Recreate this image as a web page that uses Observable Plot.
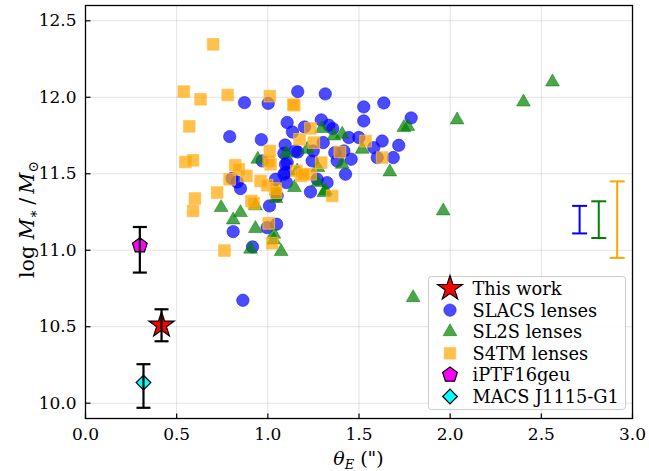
<!DOCTYPE html>
<html>
<head>
<meta charset="utf-8">
<script src="https://cdn.jsdelivr.net/npm/d3@7"></script>
<script src="https://cdn.jsdelivr.net/npm/@observablehq/plot@0.6"></script>
<style>
  body { margin: 0; background: #fff; }
  #chart { position: relative; width: 649px; height: 471px; }
</style>
</head>
<body>
<div id="chart"></div>
<script>
// ---------- data ----------
const slacsTheta = [0.872,1.002,1.164,1.315,1.526,1.636,1.526,1.786,0.791,0.964,1.106,1.135,1.201,1.293,1.335,1.356,1.444,1.499,1.627,1.718,1.581,1.600,1.688,1.304,1.095,1.088,1.164,1.249,0.969,1.106,1.097,1.088,1.102,1.097,0.804,0.832,0.850,1.042,1.051,1.009,1.271,1.325,1.234,1.426,1.380,1.457,1.367,1.417,0.810,0.996,1.048,0.916,0.863,1.243,1.152];
const slacsMass  = [11.965,11.960,12.037,12.022,11.937,11.963,11.845,11.865,11.743,11.723,11.835,11.773,11.806,11.852,11.817,11.795,11.737,11.737,11.714,11.686,11.671,11.606,11.606,11.704,11.688,11.634,11.642,11.649,11.584,11.573,11.508,11.497,11.442,11.562,11.469,11.446,11.403,11.464,11.355,11.290,11.464,11.442,11.381,11.497,11.584,11.595,11.638,11.649,11.122,11.148,11.170,11.022,10.673,11.584,11.649];

const sl2sTheta = [2.561,2.402,2.038,1.746,1.768,1.296,1.362,1.408,1.517,1.102,1.216,0.945,1.044,0.744,0.932,0.850,1.274,1.274,1.146,1.316,1.408,1.669,1.962,1.797,0.810,0.932,1.033,1.033,0.905,1.073,1.307,1.046,1.161];
const sl2sMass  = [12.100,11.969,11.852,11.802,11.808,11.795,11.747,11.758,11.660,11.634,11.660,11.595,11.338,11.279,11.290,11.246,11.540,11.442,11.410,11.388,11.562,11.512,11.257,10.690,11.198,11.142,11.105,11.067,11.007,10.991,11.377,11.388,11.518];

const s4tmTheta = [0.700,0.539,0.631,0.780,1.011,0.569,1.145,1.234,1.536,1.174,1.252,1.011,1.005,1.015,0.548,0.590,0.821,0.841,0.883,0.790,0.960,0.996,1.042,0.722,0.600,0.590,0.910,0.923,1.157,1.183,1.234,1.293,1.353,1.395,1.627,1.005,1.024,0.762,1.046,1.197,1.140];
const s4tmMass  = [12.346,12.037,11.987,12.015,12.008,11.810,11.948,11.797,11.714,11.725,11.704,11.649,11.584,11.562,11.577,11.588,11.556,11.529,11.486,11.464,11.453,11.425,11.403,11.377,11.338,11.257,11.322,11.307,11.518,11.486,11.497,11.573,11.355,11.642,11.606,11.176,11.046,10.998,11.377,11.497,11.952];

// individual lenses with error bars
const specialNames = ["This work", "iPTF16geu", "MACS J1115-G1"];
const specialTheta = [0.417, 0.298, 0.318];
const specialMass  = [10.51, 11.03, 10.135];
const specialLow   = [10.405, 10.854, 9.970];
const specialHigh  = [10.614, 11.152, 10.255];

// representative error bars of the samples
const repTheta = [2.71, 2.815, 2.916];
const repMass  = [11.2, 11.2, 11.2];
const repErr   = [0.09, 0.12, 0.25];
const repColor = ["blue", "green", "orange"];

const xTicks = [0, 0.5, 1.0, 1.5, 2.0, 2.5, 3.0];
const yTicks = [10.0, 10.5, 11.0, 11.5, 12.0, 12.5];

const legendLabels = ["This work", "SLACS lenses", "SL2S lenses", "S4TM lenses", "iPTF16geu", "MACS J1115-G1"];

// ---------- helpers ----------
const zip = (xs, ys) => xs.map((x, i) => ({x, y: ys[i]}));
const slacs = zip(slacsTheta, slacsMass);
const sl2s = zip(sl2sTheta, sl2sMass);
const s4tm = zip(s4tmTheta, s4tmMass);
const special = specialNames.map((n, i) => ({name: n, x: specialTheta[i], y: specialMass[i], lo: specialLow[i], hi: specialHigh[i]}));
const rep = repTheta.map((x, i) => ({x, y: repMass[i], lo: repMass[i] - repErr[i], hi: repMass[i] + repErr[i], c: repColor[i]}));

const pentagon = {draw(ctx, size) {
  const R = Math.sqrt(size / Math.PI);
  for (let i = 0; i < 5; i++) {
    const a = -Math.PI / 2 + i * 2 * Math.PI / 5;
    const px = R * Math.cos(a), py = R * Math.sin(a);
    if (i === 0) ctx.moveTo(px, py); else ctx.lineTo(px, py);
  }
  ctx.closePath();
}};
const capSym = {draw(ctx, size) { const w = Math.sqrt(size / Math.PI); ctx.moveTo(-w, 0); ctx.lineTo(w, 0); }};
const tickUp = {draw(ctx, size) { const l = Math.sqrt(size / Math.PI); ctx.moveTo(0, 0); ctx.lineTo(0, -l); }};
const tickRight = {draw(ctx, size) { const l = Math.sqrt(size / Math.PI); ctx.moveTo(0, 0); ctx.lineTo(l, 0); }};

const FONT = "DejaVu Serif";
const W = 649, H = 471, ML = 85, MR = 17, MT = 5, MB = 53;
const TICKFONT = "17px";

const chart = Plot.plot({
  width: W, height: H,
  marginLeft: ML, marginRight: MR, marginTop: MT, marginBottom: MB,
  style: {fontFamily: FONT, fontSize: TICKFONT, color: "#000", background: "#fff"},
  x: {domain: [0, 3]},
  y: {domain: [9.9, 12.6]},
  marks: [
    Plot.gridX(xTicks.slice(1, -1), {stroke: "#b0b0b0", strokeOpacity: 0.35, strokeWidth: 1}),
    Plot.gridY(yTicks, {stroke: "#b0b0b0", strokeOpacity: 0.35, strokeWidth: 1}),
    Plot.dot(slacs, {x: "x", y: "y", r: 6.2, symbol: "circle", fill: "blue", fillOpacity: 0.7, stroke: "blue", strokeOpacity: 0.5, strokeWidth: 1}),
    Plot.dot(sl2s, {x: "x", y: "y", r: 5.1, symbol: "triangle", fill: "green", fillOpacity: 0.7, stroke: "green", strokeOpacity: 0.5, strokeWidth: 1}),
    Plot.dot(s4tm, {x: "x", y: "y", r: 6.6, symbol: "square", fill: "orange", fillOpacity: 0.7, stroke: "#ffc04d", strokeOpacity: 0.7, strokeWidth: 1}),
    // representative error bars
    Plot.ruleX(rep, {x: "x", y1: "lo", y2: "hi", stroke: "c", strokeWidth: 2}),
    Plot.dot(rep, {x: "x", y: "lo", symbol: capSym, r: 7.5, stroke: "c", strokeWidth: 2, fill: "none"}),
    Plot.dot(rep, {x: "x", y: "hi", symbol: capSym, r: 7.5, stroke: "c", strokeWidth: 2, fill: "none"}),
    // individual lenses
    Plot.dot(special.filter(d => d.name === "This work"), {x: "x", y: "y", symbol: "star", r: 8, fill: "red", stroke: "black", strokeWidth: 1.2}),
    Plot.dot(special.filter(d => d.name === "iPTF16geu"), {x: "x", y: "y", symbol: pentagon, r: 7.8, fill: "magenta", stroke: "black", strokeWidth: 1.2}),
    Plot.dot(special.filter(d => d.name === "MACS J1115-G1"), {x: "x", y: "y", symbol: "diamond2", r: 6.6, fill: "cyan", stroke: "black", strokeWidth: 1.2}),
    Plot.ruleX(special, {x: "x", y1: "lo", y2: "hi", stroke: "black", strokeWidth: 2.2}),
    Plot.dot(special, {x: "x", y: "lo", symbol: capSym, r: 7, stroke: "black", strokeWidth: 2.2, fill: "none"}),
    Plot.dot(special, {x: "x", y: "hi", symbol: capSym, r: 7, stroke: "black", strokeWidth: 2.2, fill: "none"}),
    // axes: labels plus inward ticks
    Plot.axisX(xTicks, {tickSize: 0, tickPadding: 9, tickFormat: d3.format(".1f"), label: null, fontSize: TICKFONT}),
    Plot.axisY(yTicks, {tickSize: 0, tickPadding: 9, tickFormat: d3.format(".1f"), label: null, fontSize: TICKFONT}),
    Plot.dot(xTicks, {x: d => d, frameAnchor: "bottom", symbol: tickUp, r: 5, stroke: "black", strokeWidth: 1.2}),
    Plot.dot(yTicks, {y: d => d, frameAnchor: "left", symbol: tickRight, r: 5, stroke: "black", strokeWidth: 1.2}),
    Plot.frame({stroke: "black", strokeWidth: 1.3})
  ]
});

document.getElementById("chart").appendChild(chart);

// ---------- axis titles & legend (real SVG text) ----------
const svg = d3.select(chart);
const cx = (ML + (W - MR)) / 2, cy = (MT + (H - MB)) / 2;

const xl = svg.append("text").attr("x", cx).attr("y", 465).attr("text-anchor", "middle")
  .attr("font-family", FONT).attr("font-size", 19).attr("fill", "#000");
xl.append("tspan").attr("font-style", "italic").text("θ");
xl.append("tspan").attr("font-style", "italic").attr("font-size", 13).attr("dy", 4).text("E");
xl.append("tspan").attr("dy", -4).text(" (\")");

const yl = svg.append("text").attr("transform", `translate(34,${cy + 8}) rotate(-90)`).attr("text-anchor", "middle")
  .attr("font-family", FONT).attr("font-size", 20.5).attr("fill", "#000");
yl.append("tspan").text("log ");
yl.append("tspan").attr("font-style", "italic").text("M");
yl.append("tspan").attr("font-size", 14).attr("dy", 4).text("∗");
yl.append("tspan").attr("dy", -4).text("\u2009/\u2009");
yl.append("tspan").attr("font-style", "italic").text("M");
yl.append("tspan").attr("font-size", 14).attr("dy", 4).text("⊙");

// legend
const lg = svg.append("g");
lg.append("rect").attr("x", 428.5).attr("y", 276.5).attr("width", 197).attr("height", 133).attr("rx", 3)
  .attr("fill", "white").attr("fill-opacity", 0.8).attr("stroke", "#cccccc").attr("stroke-width", 1);
const legendSyms = [
  {sym: d3.symbolStar, size: 190, fill: "red", stroke: "black", fo: 1},
  {sym: d3.symbolCircle, size: Math.PI * 6.2 * 6.2, fill: "blue", stroke: "blue", fo: 0.7},
  {sym: d3.symbolTriangle, size: Math.PI * 5.1 * 5.1, fill: "green", stroke: "green", fo: 0.7},
  {sym: d3.symbolSquare, size: Math.PI * 6.6 * 6.6, fill: "orange", stroke: "#ffc04d", fo: 0.7},
  {sym: pentagon, size: Math.PI * 7.8 * 7.8, fill: "magenta", stroke: "black", fo: 1},
  {sym: d3.symbolDiamond2, size: Math.PI * 6.6 * 6.6, fill: "cyan", stroke: "black", fo: 1}
];
legendLabels.forEach((lab, i) => {
  const yy = 288.5 + i * 21.6;
  const s = legendSyms[i];
  lg.append("path").attr("d", d3.symbol(s.sym, s.size)()).attr("transform", `translate(450,${yy})`)
    .attr("fill", s.fill).attr("fill-opacity", s.fo).attr("stroke", s.stroke)
    .attr("stroke-opacity", s.fo === 1 ? 1 : 0.5).attr("stroke-width", s.fo === 1 ? 1.2 : 1);
  lg.append("text").attr("x", 472.5).attr("y", yy).attr("dy", "0.36em").attr("text-anchor", "start")
    .attr("font-family", FONT).attr("font-size", 17.8).attr("fill", "#000").text(lab);
});
</script>
</body>
</html>
